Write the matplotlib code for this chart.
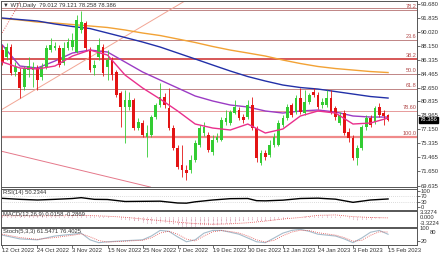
import matplotlib
matplotlib.use("Agg")
import matplotlib.pyplot as plt
import numpy as np

plt.rcParams["font.family"] = ["Liberation Sans", "DejaVu Sans"]

# ---------------------------------------------------------------------------
# Data (12 Oct 2022 .. 15 Feb 2023, 89 bars)
# ---------------------------------------------------------------------------
opens = [87.60, 86.68, 88.00, 84.70, 84.70, 82.72, 84.96, 84.96, 85.23, 84.04,
         85.36, 87.60, 87.87, 87.87, 85.89, 87.87, 88.00, 87.34, 90.25, 91.17,
         87.60, 85.23, 86.68, 88.00, 85.36, 86.28, 84.70, 81.92, 80.08, 80.08,
         81.00, 77.30, 77.96, 76.11, 76.38, 78.75, 80.34, 81.40, 79.94, 77.30,
         74.66, 72.41, 71.75, 71.75, 73.08, 75.06, 76.64, 76.38, 74.13, 75.72,
         75.72, 78.09, 77.96, 79.28, 79.68, 78.75, 78.75, 80.34, 77.30, 72.68,
         74.00, 73.73, 75.06, 75.06, 77.70, 78.62, 80.34, 79.42, 81.26, 79.28,
         80.74, 82.06, 81.66, 80.34, 80.34, 81.26, 79.94, 77.96, 79.28, 76.77,
         75.98, 73.34, 74.66, 77.43, 78.62, 78.09, 80.08, 79.28, 79.012]
highs = [88.27, 88.53, 88.40, 86.02, 85.23, 85.49, 86.68, 86.02, 85.62, 85.89,
         88.27, 89.19, 88.66, 88.27, 88.66, 89.19, 89.85, 92.23, 92.76, 91.44,
         88.00, 86.28, 89.19, 88.40, 87.60, 86.68, 84.96, 82.19, 82.32, 82.06,
         81.26, 78.62, 78.36, 77.70, 79.02, 80.60, 83.25, 81.92, 82.59, 77.70,
         75.06, 75.06, 72.41, 73.73, 75.72, 77.70, 78.09, 76.77, 76.38, 76.64,
         78.75, 79.68, 79.68, 81.00, 80.08, 79.15, 81.00, 81.40, 77.57, 74.39,
         74.39, 75.72, 76.64, 78.36, 79.02, 80.47, 80.60, 81.66, 82.59, 82.32,
         81.92, 82.59, 82.06, 81.26, 82.32, 82.32, 80.21, 79.42, 79.68, 77.30,
         76.38, 75.06, 77.70, 79.02, 79.02, 80.21, 80.60, 79.68, 79.121]
lows = [85.62, 86.28, 84.30, 84.17, 81.26, 82.32, 84.04, 82.72, 82.32, 83.64,
        85.10, 87.34, 87.60, 85.36, 85.62, 87.60, 87.60, 87.21, 89.85, 87.60,
        84.70, 84.30, 86.28, 84.17, 83.64, 83.64, 81.40, 77.43, 75.32, 79.68,
        77.04, 77.04, 76.11, 73.47, 76.11, 78.49, 80.08, 79.94, 77.04, 74.39,
        71.89, 70.83, 70.43, 71.36, 72.81, 74.79, 76.25, 74.13, 73.73, 75.45,
        75.58, 77.70, 77.70, 79.15, 78.36, 77.96, 78.49, 77.04, 72.81, 72.41,
        73.08, 73.47, 74.79, 74.92, 77.43, 78.36, 78.75, 79.15, 79.15, 79.02,
        80.47, 81.40, 79.81, 79.94, 80.08, 79.15, 78.36, 77.70, 76.38, 75.45,
        73.08, 72.41, 74.39, 77.04, 77.43, 77.83, 78.75, 77.70, 78.258]
closes = [86.02, 88.00, 84.57, 85.36, 82.59, 85.23, 85.49, 85.36, 83.64, 85.36,
          87.87, 88.27, 88.13, 85.62, 87.87, 88.66, 88.93, 91.57, 91.30, 87.87,
          84.96, 85.62, 88.27, 84.57, 86.28, 84.30, 81.66, 80.08, 81.00, 81.00,
          77.30, 78.09, 76.38, 76.64, 78.75, 80.34, 81.40, 80.34, 77.30, 74.66,
          72.15, 71.75, 71.36, 73.08, 75.32, 77.30, 77.43, 74.39, 75.72, 76.11,
          78.36, 78.62, 79.42, 80.08, 78.62, 78.36, 80.34, 77.30, 73.34, 74.00,
          73.47, 75.06, 76.11, 77.96, 78.62, 80.08, 79.02, 81.26, 79.42, 80.74,
          81.66, 81.66, 80.08, 80.74, 81.26, 79.42, 78.75, 79.02, 76.64, 75.98,
          73.34, 74.66, 77.43, 78.62, 77.70, 79.94, 79.02, 78.89, 78.386]

# moving averages, read every 4th bar
ma_bars = list(range(0, 89, 4))
ma_orange = [91.77, 91.57, 91.30, 91.17, 90.97, 90.78, 90.58, 90.25, 89.85, 89.52,
             89.06, 88.60, 88.07, 87.60, 87.21, 86.81, 86.28, 85.82, 85.43, 85.16,
             84.96, 84.76, 84.63]
ma_blue = [91.83, 91.63, 91.44, 91.04, 90.71, 90.44, 89.85, 89.26, 88.66, 88.00,
           87.21, 86.42, 85.62, 84.83, 84.10, 83.51, 82.98, 82.65, 82.45, 82.12,
           81.79, 81.46, 81.26]
ma_purple = [88.27, 85.49, 85.23, 86.15, 87.21, 87.60, 87.34, 86.02, 84.70, 83.64,
             82.59, 81.53, 80.87, 80.34, 80.08, 79.55, 79.28, 79.55, 79.68, 79.42,
             78.89, 78.75, 78.75]
ma_pink = [86.02, 85.23, 85.10, 85.49, 86.81, 87.60, 86.94, 84.30, 82.59, 81.13,
           79.55, 77.83, 77.30, 77.04, 77.83, 76.64, 77.17, 78.89, 79.55, 79.28,
           77.83, 77.96, 78.62]

# fibonacci levels (price, label)
fib_prices = [93.09, 92.89, 88.93, 86.48, 84.43, 82.52, 79.55, 76.18]
fib_labels = ["", "78.2", "23.6", "38.2", "50.0", "61.8", "78.60", "100.0"]

# trend lines: (bar, price) end points
trend_up = ([-0.3, 41.7], [79.68, 94.10])
trend_dot = ([-0.3, 4.2], [89.60, 94.10])
trend_low = ([-0.3, 33.8], [74.25, 69.50])

price_ticks = [93.680, 91.835, 90.020, 88.150, 86.335, 84.465, 82.650, 80.835,
               78.965, 77.150, 75.335, 73.465, 71.650, 69.635]

# RSI(14)
rsi_bars = [0, 4, 8, 12, 16, 18, 21, 24, 28, 32, 36, 40, 42, 44, 48, 52, 56, 58,
            60, 64, 68, 72, 76, 80, 84, 88]
rsi_vals = [54, 48, 44, 48, 53, 58, 48, 47, 35, 36, 37, 26, 25, 33, 44, 52, 53,
            40, 39, 43, 53, 55, 49, 30, 44, 50.23]

# MACD(12,26,9): main per bar (histogram) and signal every 4th bar
macd_main = [0.9, 0.9, 0.8, 0.7, 0.6, 0.6, 0.6, 0.6, 0.5, 0.5, 0.6, 0.7, 0.7, 0.6, 0.7, 0.8,
             0.9, 1.2, 1.4, 1.2, 0.9, 0.8, 0.8, 0.6, 0.5, 0.3,
             -0.1, -0.6, -0.9, -1.1, -1.6, -1.9, -2.3, -2.6, -2.6, -2.5,
             -2.3, -2.3, -2.6, -3.1, -3.6, -4.0, -4.3, -4.3, -4.1, -3.7,
             -3.5, -3.6, -3.6, -3.5, -3.1, -2.8, -2.5, -2.1, -1.9, -1.7,
             -1.4, -1.4, -1.8, -1.9, -1.9, -1.7, -1.4, -1.0, -0.7, -0.3,
             -0.1, 0.2, 0.3, 0.5, 0.7, 0.8, 0.8, 0.8, 0.9, 0.8,
             0.7, 0.5, 0.1, -0.3, -0.8, -1.1, -0.9, -0.7, -0.6, -0.4, -0.2, -0.1, 0.0158]
macd_signal = [0.7, 0.7, 0.7, 0.7, 0.8, 0.8, 0.5, 0.0, -0.8, -1.6, -2.3, -3.0,
               -3.3, -3.1, -2.6, -1.8, -0.8, -0.1, 0.9, 1.1, 0.3, -0.1, -0.2869]

# Stochastic(5,3,3)
st_bars = [0, 4, 8, 12, 16, 18, 20, 22, 24, 28, 32, 34, 36, 38, 40, 42, 44, 46, 48,
           50, 52, 54, 56, 58, 60, 62, 64, 66, 68, 70, 72, 76, 78, 80, 82, 84, 86, 88]
st_main = [56, 31, 25, 50, 62, 69, 25, 6, 12, 19, 25, 50, 87, 81, 44, 12, 25, 69, 87,
           87, 75, 62, 37, 12, 6, 37, 69, 87, 94, 81, 62, 50, 31, 6, 37, 75, 87, 61.55]
st_signal = [62, 40, 28, 40, 55, 64, 45, 20, 10, 16, 22, 38, 70, 82, 62, 30, 18, 50, 78,
             86, 80, 70, 50, 25, 10, 22, 52, 76, 88, 86, 72, 56, 40, 15, 22, 55, 78, 76.40]

date_bars = [0, 8, 16, 24, 32, 40, 48, 56, 64, 72, 80, 88]
date_labels = ["12 Oct 2022", "24 Oct 2022", "3 Nov 2022", "15 Nov 2022", "25 Nov 2022",
               "7 Dec 2022", "19 Dec 2022", "30 Dec 2022", "12 Jan 2023", "24 Jan 2023",
               "3 Feb 2023", "15 Feb 2023"]

# ---------------------------------------------------------------------------
W, H = 440, 254
FS = 4.2
TXT = "#333333"
fig = plt.figure(figsize=(W / 100, H / 100), dpi=100)


def ax_px(x0, y0, x1, y1):
    return fig.add_axes([x0 / W, 1 - y1 / H, (x1 - x0) / W, (y1 - y0) / H])


ax = ax_px(1, 1, 417, 187)
ax_rsi = ax_px(1, 188.5, 417, 209.5)
ax_macd = ax_px(1, 210.5, 417, 227)
ax_st = ax_px(1, 228, 417, 244.5)
XLIM = (-0.3, 94.6)

for a in (ax, ax_rsi, ax_macd, ax_st):
    a.set_xlim(*XLIM)
    for s in a.spines.values():
        s.set_color("#555555")
        s.set_linewidth(0.7)
    a.yaxis.tick_right()
    a.tick_params(axis="y", length=2, width=0.5, labelsize=FS, pad=0.8, colors=TXT)
    a.tick_params(axis="x", length=0, labelbottom=False)

# ---- main price panel
ax.set_ylim(69.51, 94.08)
ax.set_yticks(price_ticks)
ax.set_yticklabels([f"{t:.3f}" for t in price_ticks])

for p, lab in zip(fib_prices, fib_labels):
    if lab == "38.2":
        col, lw = "#cc2a2a", 1.1
    elif lab == "100.0":
        col, lw = "#f08a8a", 1.6
    elif lab == "78.60":
        col, lw = "#e79a9a", 0.7
    else:
        col, lw = "#c08585", 0.7
    ax.axhline(p, color=col, lw=lw, zorder=1)
    if lab:
        ax.text(94.5, p + 0.12, lab, ha="right", va="bottom", fontsize=FS - 0.2,
                color="#b04848", zorder=5)

ax.plot(*trend_up, color="#f2a594", lw=0.7, zorder=1)
ax.plot(*trend_dot, color="#e06060", lw=0.7, ls=(0, (1, 1.5)), zorder=1)
ax.plot(*trend_low, color="#e5788a", lw=0.7, zorder=1)

x = np.arange(len(closes))
o = np.array(opens)
c = np.array(closes)
up = c >= o
colors = np.where(up, "#33cc33", "#e31414")
ax.vlines(x, lows, highs, colors=colors, lw=0.6, zorder=3)
body = np.where(np.abs(c - o) < 0.08, 0.08, c - o)
ax.bar(x, body, bottom=o, width=0.62, color=colors, linewidth=0, zorder=4)

ax.plot(ma_bars, ma_orange, color="#f2a235", lw=1.0, zorder=2)
ax.plot(ma_bars, ma_blue, color="#2230a8", lw=1.0, zorder=2)
ax.plot(ma_bars, ma_purple, color="#9b3bc4", lw=1.0, zorder=2)
ax.plot(ma_bars, ma_pink, color="#ea2f8c", lw=1.0, zorder=5)

ax.text(0.006, 0.99, "\u25bc WTI,Daily  79.012 79.121 78.258 78.386",
        transform=ax.transAxes, ha="left", va="top", fontsize=FS, color=TXT, zorder=6)
ax.text(1.006, closes[-1], f"{closes[-1]:.3f}", transform=ax.get_yaxis_transform(),
        ha="left", va="center", fontsize=FS, color="white", zorder=6, clip_on=False,
        bbox=dict(boxstyle="square,pad=0.12", fc="black", ec="black"))

# ---- RSI
ax_rsi.set_ylim(-13, 113)
ax_rsi.set_yticks([100, 70, 30, 0])
ax_rsi.axhline(70, color="#bbbbbb", lw=0.5, ls=(0, (1, 2)))
ax_rsi.axhline(30, color="#bbbbbb", lw=0.5, ls=(0, (1, 2)))
ax_rsi.plot(rsi_bars, rsi_vals, color="black", lw=1.0)
ax_rsi.text(0.006, 0.93, "RSI(14) 50.2344", transform=ax_rsi.transAxes, ha="left",
            va="top", fontsize=FS, color=TXT)

# ---- MACD
ax_macd.set_ylim(-4.6, 3.2)
ax_macd.set_yticks([])
ax_macd.vlines(x, 0, macd_main, colors="#c77595", lw=0.55, ls=(0, (1, 0.8)))
ax_macd.plot(ma_bars, macd_signal, color="#e04040", lw=0.6, ls=(0, (1, 1.5)))
ax_macd.text(0.006, 0.93, "MACD(12,26,9) 0.0158 -0.2869", transform=ax_macd.transAxes,
             ha="left", va="top", fontsize=FS, color=TXT)
for yy, lab in ((0.86, "3.3274"), (0.60, "0.000"), (0.22, "-3.3224")):
    ax_macd.text(1.006, yy, lab, transform=ax_macd.transAxes, ha="left", va="center",
                 fontsize=FS, color=TXT, clip_on=False)

# ---- Stochastic
ax_st.set_ylim(-6, 103)
ax_st.set_yticks([20])
ax_st.plot(st_bars, st_main, color="#a7bccb", lw=0.8)
ax_st.plot(st_bars, st_signal, color="#e04848", lw=0.6, ls=(0, (1, 1.5)))
ax_st.text(0.006, 0.95, "Stoch(5,3,3) 61.5471 76.4025", transform=ax_st.transAxes,
           ha="left", va="top", fontsize=FS, color=TXT)
ax_st.text(1.006, 0.97, "100", transform=ax_st.transAxes, ha="left", va="center",
           fontsize=FS, color=TXT, clip_on=False)
ax_st.text(1.030, 0.70, "80", transform=ax_st.transAxes, ha="left", va="center",
           fontsize=FS, color=TXT, clip_on=False)

ax_st.set_xticks(date_bars)
ax_st.set_xticklabels(date_labels, ha="left")
ax_st.tick_params(axis="x", length=2.5, width=0.5, direction="out", labelbottom=True,
                  labelsize=FS, pad=0.3, colors=TXT)

fig.savefig("out.png", dpi=100)
